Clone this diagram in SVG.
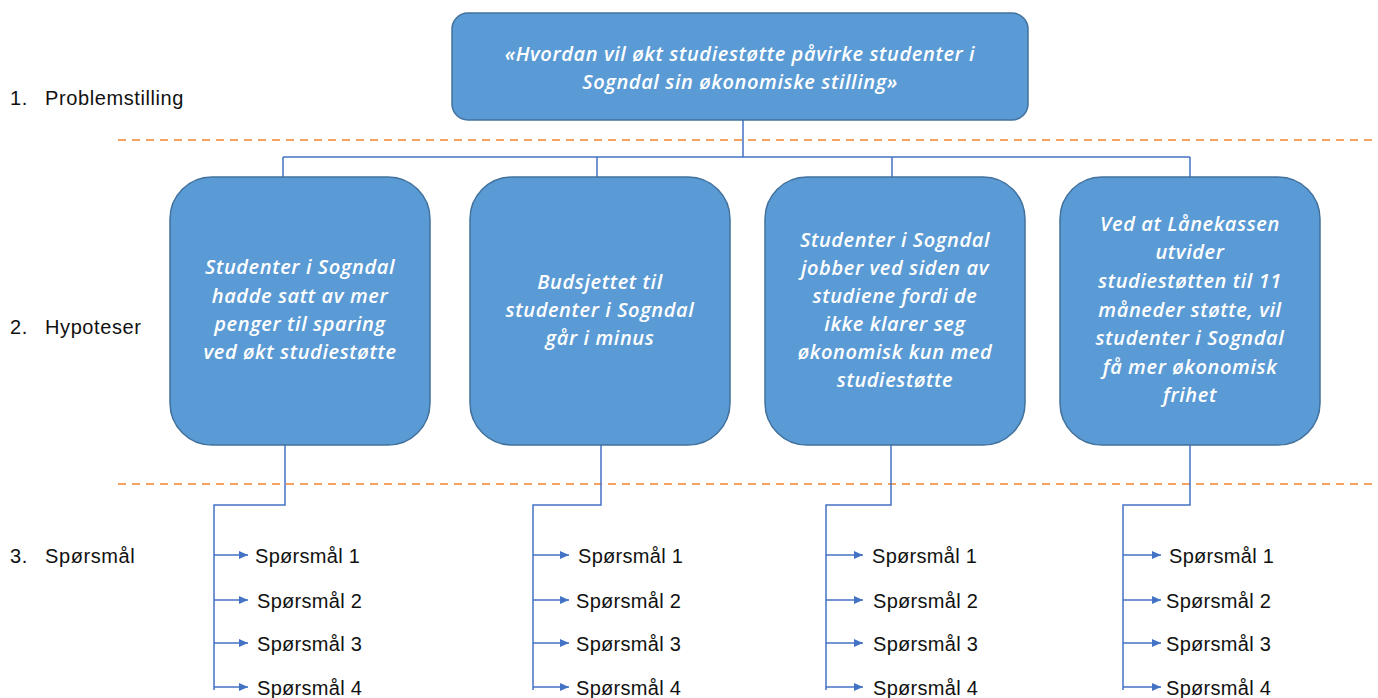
<svg xmlns="http://www.w3.org/2000/svg" width="1378" height="698" viewBox="0 0 1378 698">
<defs>
<marker id="arr" markerWidth="10" markerHeight="10" refX="9" refY="5" orient="auto" markerUnits="userSpaceOnUse"><path d="M0,1 L9,5 L0,9 Z" fill="#4472c4"/></marker>
<style>
.box{fill:#5b9bd5;stroke:#41719c;stroke-width:1.5}
.bt{font-family:"Open Sans","Liberation Sans",sans-serif;font-style:italic;font-weight:600;font-size:20px;letter-spacing:0.6px;fill:#fff;text-anchor:middle}
.lbl{font-family:"Liberation Sans",sans-serif;font-size:20px;letter-spacing:0.6px;fill:#111}
.q{font-family:"Liberation Sans",sans-serif;font-size:20px;letter-spacing:0.3px;fill:#111}
.ln{fill:none;stroke:#4472c4;stroke-width:1.5}
.ar{fill:none;stroke:#4472c4;stroke-width:1.5;marker-end:url(#arr)}
.dash{stroke:#f4a460;stroke-width:2;stroke-dasharray:8,6}
</style>
</defs>
<rect width="1378" height="698" fill="#fff"/>
<g id="labels">
<text class="lbl" x="10" y="105">1.</text><text class="lbl" x="45" y="105">Problemstilling</text>
<text class="lbl" x="10" y="334">2.</text><text class="lbl" x="45" y="334">Hypoteser</text>
<text class="lbl" x="10" y="563">3.</text><text class="lbl" x="45" y="563">Spørsmål</text>
</g>
<g id="separators">
<line class="dash" x1="118" y1="140" x2="1378" y2="140"/>
<line class="dash" x1="118" y1="484" x2="1378" y2="484"/>
</g>
<g id="connectors">
<path class="ln" d="M743,120 V157 M283,157 H1190 M283,157 V177 M597,157 V177 M892,157 V177 M1190,157 V177"/>
<path class="ln" d="M285,445 V505 H214 V690"/>
<path class="ar" d="M214,555 H248"/><path class="ar" d="M214,600 H248"/><path class="ar" d="M214,643 H248"/><path class="ar" d="M214,687 H248"/>
<path class="ln" d="M601,445 V505 H533 V690"/>
<path class="ar" d="M533,555 H569"/><path class="ar" d="M533,600 H569"/><path class="ar" d="M533,643 H569"/><path class="ar" d="M533,687 H569"/>
<path class="ln" d="M891,445 V505 H826 V690"/>
<path class="ar" d="M826,555 H863"/><path class="ar" d="M826,600 H863"/><path class="ar" d="M826,643 H863"/><path class="ar" d="M826,687 H863"/>
<path class="ln" d="M1190,445 V505 H1123 V690"/>
<path class="ar" d="M1123,555 H1161"/><path class="ar" d="M1123,600 H1161"/><path class="ar" d="M1123,643 H1161"/><path class="ar" d="M1123,687 H1161"/>
</g>
<g id="problem">
<rect class="box" x="452" y="13" width="576" height="107" rx="16"/>
<text class="bt" x="740" y="61">«Hvordan vil økt studiestøtte påvirke studenter i</text>
<text class="bt" x="740" y="89">Sogndal sin økonomiske stilling»</text>
</g>
<g id="hyp1">
<rect class="box" x="170" y="177" width="260" height="268" rx="42"/>
<text class="bt" x="300" y="274">Studenter i Sogndal</text>
<text class="bt" x="300" y="303">hadde satt av mer</text>
<text class="bt" x="300" y="331">penger til sparing</text>
<text class="bt" x="300" y="359">ved økt studiestøtte</text>
</g>
<g id="hyp2">
<rect class="box" x="470" y="177" width="260" height="268" rx="42"/>
<text class="bt" x="600" y="289">Budsjettet til</text>
<text class="bt" x="600" y="317">studenter i Sogndal</text>
<text class="bt" x="600" y="345">går i minus</text>
</g>
<g id="hyp3">
<rect class="box" x="765" y="177" width="260" height="268" rx="42"/>
<text class="bt" x="895" y="247">Studenter i Sogndal</text>
<text class="bt" x="895" y="275">jobber ved siden av</text>
<text class="bt" x="895" y="303">studiene fordi de</text>
<text class="bt" x="895" y="331">ikke klarer seg</text>
<text class="bt" x="895" y="359">økonomisk kun med</text>
<text class="bt" x="895" y="387">studiestøtte</text>
</g>
<g id="hyp4">
<rect class="box" x="1060" y="177" width="260" height="268" rx="42"/>
<text class="bt" x="1190" y="231">Ved at Lånekassen</text>
<text class="bt" x="1190" y="259">utvider</text>
<text class="bt" x="1190" y="288">studiestøtten til 11</text>
<text class="bt" x="1190" y="317">måneder støtte, vil</text>
<text class="bt" x="1190" y="345">studenter i Sogndal</text>
<text class="bt" x="1190" y="374">få mer økonomisk</text>
<text class="bt" x="1190" y="402">frihet</text>
</g>
<g id="q1">
<text class="q" x="255" y="563">Spørsmål 1</text><text class="q" x="257" y="608">Spørsmål 2</text><text class="q" x="257" y="651">Spørsmål 3</text><text class="q" x="257" y="695">Spørsmål 4</text>
</g>
<g id="q2">
<text class="q" x="578" y="563">Spørsmål 1</text><text class="q" x="576" y="608">Spørsmål 2</text><text class="q" x="576" y="651">Spørsmål 3</text><text class="q" x="576" y="695">Spørsmål 4</text>
</g>
<g id="q3">
<text class="q" x="872" y="563">Spørsmål 1</text><text class="q" x="873" y="608">Spørsmål 2</text><text class="q" x="873" y="651">Spørsmål 3</text><text class="q" x="873" y="695">Spørsmål 4</text>
</g>
<g id="q4">
<text class="q" x="1169" y="563">Spørsmål 1</text><text class="q" x="1166" y="608">Spørsmål 2</text><text class="q" x="1166" y="651">Spørsmål 3</text><text class="q" x="1166" y="695">Spørsmål 4</text>
</g>
</svg>
